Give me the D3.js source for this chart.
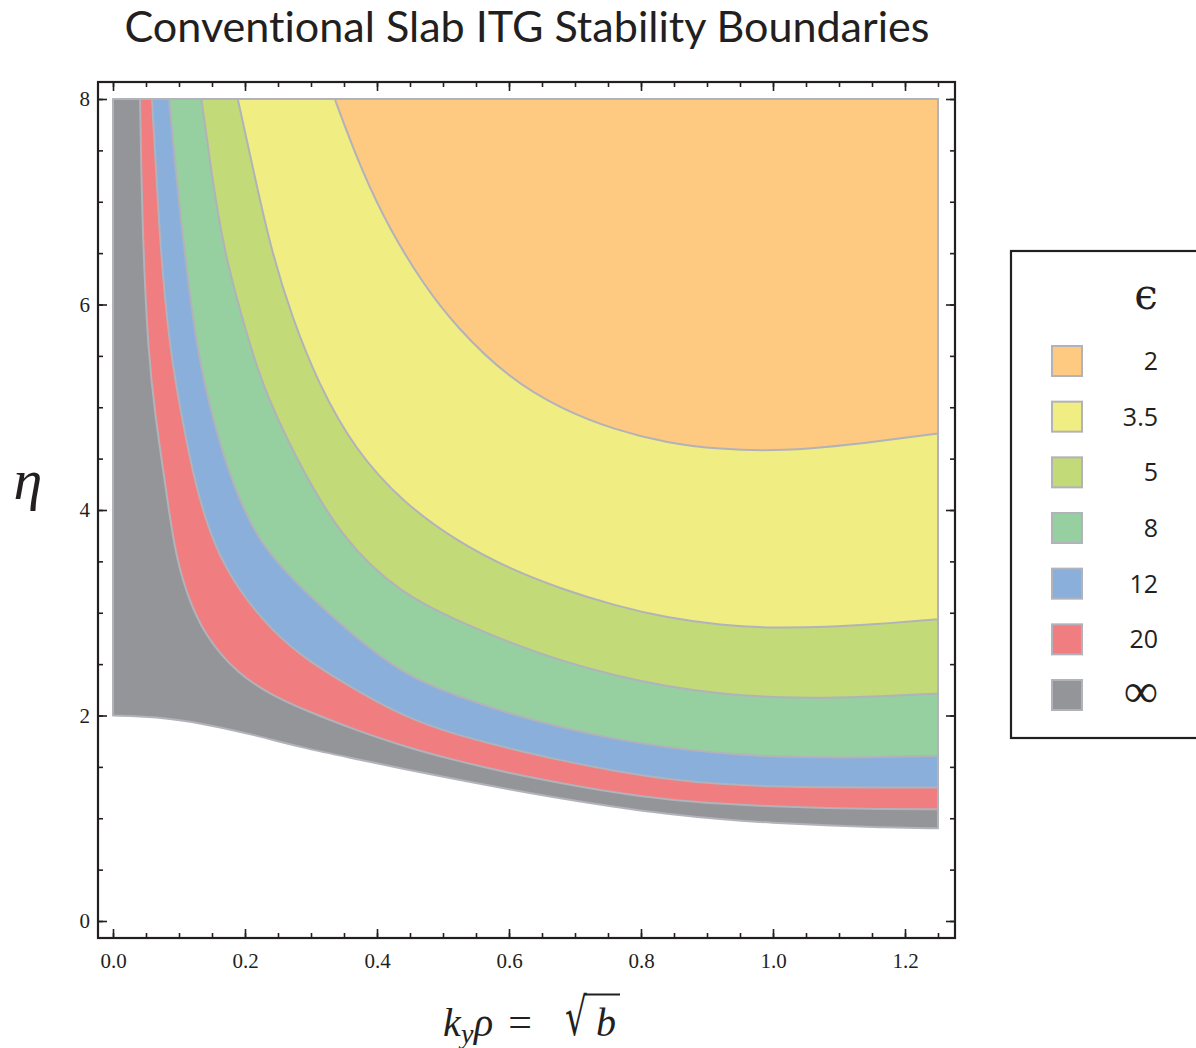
<!DOCTYPE html>
<html>
<head>
<meta charset="utf-8">
<script src="https://cdn.jsdelivr.net/npm/d3@7"></script>
<style>
  html, body { margin: 0; padding: 0; background: #fff; }
  svg { display: block; }
  text { font-variant-ligatures: none; font-feature-settings: "liga" 0, "clig" 0; }
</style>
</head>
<body>
<svg id="chart" width="1196" height="1048"></svg>
<script>
// ---------------- data ----------------
const epsilonLabels = ["2", "3.5", "5", "8", "12", "20", "\u221E"];
const regionColors = ["#fec980", "#f0ed82", "#c2da78", "#96cfa0", "#8bafdb", "#f07e80", "#949599"];

// boundary curves [k_y rho, eta]; each region lies above / right of its curve
const boundary2 = [[0.336,8.0],[0.376,7.31],[0.42,6.72],[0.47,6.2],[0.52,5.78],[0.60,5.28],[0.68,4.98],[0.76,4.78],[0.84,4.65],[0.92,4.59],[1.00,4.575],[1.08,4.61],[1.16,4.67],[1.25,4.745]];
const boundary35 = [[0.189,8.0],[0.215,7.24],[0.24,6.52],[0.271,5.88],[0.311,5.23],[0.367,4.58],[0.44,4.07],[0.52,3.70],[0.60,3.43],[0.68,3.23],[0.76,3.07],[0.84,2.95],[0.92,2.88],[1.00,2.85],[1.08,2.86],[1.16,2.89],[1.25,2.936]];
const boundary5 = [[0.134,8.0],[0.15,7.24],[0.168,6.53],[0.195,5.88],[0.225,5.23],[0.271,4.58],[0.346,3.71],[0.44,3.17],[0.52,2.93],[0.60,2.71],[0.68,2.53],[0.76,2.39],[0.84,2.28],[0.92,2.21],[1.00,2.175],[1.08,2.17],[1.16,2.185],[1.25,2.215]];
const boundary8 = [[0.085,8.0],[0.096,7.24],[0.108,6.53],[0.127,5.56],[0.15,4.91],[0.18,4.26],[0.222,3.66],[0.291,3.20],[0.367,2.76],[0.44,2.40],[0.52,2.19],[0.60,2.02],[0.68,1.88],[0.76,1.77],[0.84,1.69],[0.92,1.63],[1.00,1.60],[1.08,1.59],[1.16,1.595],[1.25,1.609]];
const boundary12 = [[0.059,8.0],[0.066,7.24],[0.072,6.53],[0.086,5.56],[0.104,4.91],[0.124,4.26],[0.152,3.66],[0.19,3.22],[0.24,2.83],[0.291,2.55],[0.367,2.25],[0.44,1.99],[0.52,1.81],[0.60,1.68],[0.68,1.56],[0.76,1.46],[0.84,1.38],[0.92,1.33],[1.00,1.31],[1.08,1.30],[1.16,1.30],[1.25,1.30]];
const boundary20 = [[0.041,8.0],[0.043,7.24],[0.046,6.53],[0.053,5.56],[0.064,4.91],[0.079,4.26],[0.092,3.66],[0.109,3.22],[0.139,2.77],[0.19,2.40],[0.24,2.20],[0.291,2.05],[0.367,1.86],[0.44,1.70],[0.52,1.56],[0.60,1.44],[0.68,1.34],[0.76,1.25],[0.84,1.18],[0.92,1.14],[1.00,1.115],[1.08,1.10],[1.16,1.09],[1.25,1.087]];
const boundaryInf = [[0,8.0],[0,2.0],[0.064,1.99],[0.139,1.92],[0.215,1.81],[0.291,1.68],[0.367,1.58],[0.44,1.48],[0.52,1.38],[0.60,1.28],[0.68,1.19],[0.76,1.11],[0.84,1.04],[0.92,0.99],[1.00,0.955],[1.08,0.93],[1.16,0.912],[1.25,0.902]];

const xMajorTicks = [0, 0.2, 0.4, 0.6, 0.8, 1.0, 1.2];
const yMajorTicks = [0, 2, 4, 6, 8];
const kMax = 1.25, etaMax = 8;

// ---------------- layout ----------------
const svg = d3.select("#chart");
const frame = { left: 98, right: 955, top: 82, bottom: 938 };
const x = d3.scaleLinear().domain([0, kMax]).range([113, 938]);
const y = d3.scaleLinear().domain([0, etaMax]).range([921, 99]);

const xMinor = d3.range(0, kMax + 1e-9, 0.05);
const yMinor = d3.range(0, etaMax + 1e-9, 0.5);

// ---------------- regions ----------------
const boundaries = [boundaryInf, boundary20, boundary12, boundary8, boundary5, boundary35, boundary2];
const colorsInDrawOrder = regionColors.slice().reverse();

const curveLine = d3.line().x(d => x(d[0])).y(d => y(d[1])).curve(d3.curveBasis);

const gRegions = svg.append("g");
boundaries.forEach((b, i) => {
  let d;
  if (b === boundaryInf) {
    const rest = b.slice(1);
    d = "M" + x(b[0][0]) + "," + y(b[0][1]) + "L" + curveLine(rest).slice(1);
  } else {
    d = curveLine(b);
  }
  d += "L" + x(kMax) + "," + y(etaMax) + "Z";
  gRegions.append("path")
    .attr("d", d)
    .attr("fill", colorsInDrawOrder[i])
    .attr("stroke", "#b2b2ba")
    .attr("stroke-width", 2)
    .attr("stroke-linejoin", "round");
});

// ---------------- axes / frame ----------------
const tickColor = "#231f20";
function styleAxis(g) {
  g.select(".domain").remove();
  g.selectAll(".tick line").attr("stroke", tickColor).attr("stroke-width", 1.6);
  g.selectAll(".tick text")
    .attr("fill", tickColor)
    .style("font-family", "'Liberation Serif', 'Times New Roman', serif")
    .style("font-size", "21px");
}

// bottom
svg.append("g").attr("transform", `translate(0,${frame.bottom})`)
  .call(d3.axisBottom(x).tickValues(xMinor).tickSize(-5).tickFormat(""))
  .call(styleAxis);
svg.append("g").attr("transform", `translate(0,${frame.bottom})`)
  .call(d3.axisBottom(x).tickValues(xMajorTicks).tickSize(-9).tickPadding(15).tickFormat(d3.format(".1f")))
  .call(styleAxis);
// top
svg.append("g").attr("transform", `translate(0,${frame.top})`)
  .call(d3.axisTop(x).tickValues(xMinor).tickSize(-5).tickFormat(""))
  .call(styleAxis);
svg.append("g").attr("transform", `translate(0,${frame.top})`)
  .call(d3.axisTop(x).tickValues(xMajorTicks).tickSize(-9).tickFormat(""))
  .call(styleAxis);
// left
svg.append("g").attr("transform", `translate(${frame.left},0)`)
  .call(d3.axisLeft(y).tickValues(yMinor).tickSize(-5).tickFormat(""))
  .call(styleAxis);
svg.append("g").attr("transform", `translate(${frame.left},0)`)
  .call(d3.axisLeft(y).tickValues(yMajorTicks).tickSize(-9).tickPadding(8).tickFormat(d3.format("d")))
  .call(styleAxis);
// right
svg.append("g").attr("transform", `translate(${frame.right},0)`)
  .call(d3.axisRight(y).tickValues(yMinor).tickSize(-5).tickFormat(""))
  .call(styleAxis);
svg.append("g").attr("transform", `translate(${frame.right},0)`)
  .call(d3.axisRight(y).tickValues(yMajorTicks).tickSize(-9).tickFormat(""))
  .call(styleAxis);

svg.append("rect")
  .attr("x", frame.left).attr("y", frame.top)
  .attr("width", frame.right - frame.left).attr("height", frame.bottom - frame.top)
  .attr("fill", "none").attr("stroke", tickColor).attr("stroke-width", 2.2);

// ---------------- title ----------------
const title = svg.append("text")
  .attr("x", 527).attr("y", 42)
  .attr("text-anchor", "middle")
  .attr("fill", "#231f20")
  .style("font-family", "Lato, 'Open Sans', sans-serif")
  .style("font-size", "36px")
  .text("Conventional Slab ITG Stability Boundaries");
const tw = title.node().getComputedTextLength();
title.style("font-size", (36 * 805 / tw).toFixed(2) + "px");

// ---------------- axis titles ----------------
svg.append("text")
  .attr("x", 28).attr("y", 499)
  .attr("text-anchor", "middle")
  .attr("fill", "#231f20")
  .style("font-family", "'Liberation Serif', serif")
  .style("font-style", "italic")
  .style("font-size", "58px")
  .text("\u03B7");

const xl = svg.append("g").attr("fill", "#231f20")
  .style("font-family", "'Liberation Serif', serif");
xl.append("text").attr("x", 443).attr("y", 1036).style("font-style", "italic").style("font-size", "40px").text("k");
xl.append("text").attr("x", 461).attr("y", 1043).style("font-style", "italic").style("font-size", "28px").text("y");
xl.append("text").attr("x", 474).attr("y", 1036).style("font-style", "italic").style("font-size", "40px").text("\u03C1");
xl.append("text").attr("x", 520).attr("y", 1036).attr("text-anchor", "middle").style("font-size", "42px").text("=");
xl.append("text").attr("transform", "translate(565,1035) scale(0.66,1)")
  .style("font-family", "'DejaVu Serif', serif").style("font-size", "52px").text("\u221A");
xl.append("text").attr("x", 596).attr("y", 1036).style("font-style", "italic").style("font-size", "40px").text("b");
xl.append("line").attr("x1", 584).attr("x2", 620).attr("y1", 994.5).attr("y2", 994.5)
  .attr("stroke", "#231f20").attr("stroke-width", 2);

// ---------------- legend ----------------
const lg = svg.append("g");
lg.append("rect").attr("x", 1011).attr("y", 251).attr("width", 200).attr("height", 487)
  .attr("fill", "#fff").attr("stroke", "#231f20").attr("stroke-width", 2.2);
lg.append("text").attr("x", 1146).attr("y", 309).attr("text-anchor", "middle")
  .attr("fill", "#231f20")
  .style("font-family", "'DejaVu Serif', serif").style("font-size", "42px")
  .text("\u03F5");
const legendY = d3.scalePoint().domain(epsilonLabels).range([361, 695]);
epsilonLabels.forEach((lab, i) => {
  const cy = legendY(lab);
  lg.append("rect").attr("x", 1052).attr("y", cy - 15).attr("width", 30).attr("height", 30)
    .attr("fill", regionColors[i]).attr("stroke", "#b2b2ba").attr("stroke-width", 2);
  const isInf = lab === "\u221E";
  lg.append("text").attr("x", 1158).attr("y", isInf ? cy + 12 : cy + 9).attr("text-anchor", "end")
    .attr("fill", "#231f20")
    .style("font-family", isInf ? "'Liberation Serif', serif" : "'Open Sans', 'Noto Sans', sans-serif")
    .style("font-size", isInf ? "48px" : "25px")
    .text(lab);
});
</script>
</body>
</html>
